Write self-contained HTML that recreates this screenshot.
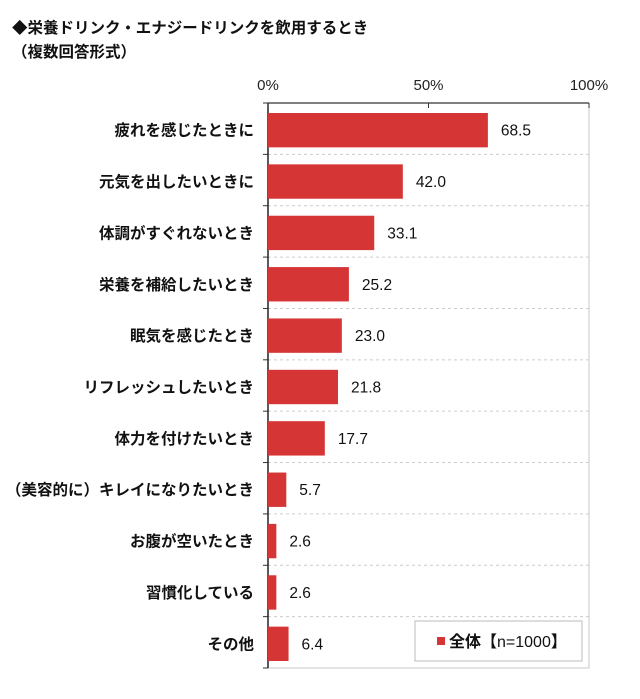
<!DOCTYPE html>
<html><head><meta charset="utf-8"><style>
body{margin:0;background:#fff;width:640px;height:694px;overflow:hidden}
svg text{font-family:"Liberation Sans","Noto Sans CJK JP",sans-serif}
</style></head><body>
<svg id="chart" width="640" height="694" xmlns="http://www.w3.org/2000/svg">
<text x="12" y="33" font-size="15.5" font-weight="bold" fill="#111">◆栄養ドリンク・エナジードリンクを飲用するとき</text>
<text x="12" y="57" font-size="15.5" font-weight="bold" fill="#111">（複数回答形式）</text>
<g id="plot"></g>
</svg>
<script>
const categories=["疲れを感じたときに","元気を出したいときに","体調がすぐれないとき","栄養を補給したいとき","眠気を感じたとき","リフレッシュしたいとき","体力を付けたいとき","（美容的に）キレイになりたいとき","お腹が空いたとき","習慣化している","その他"];
const values=[68.5,42.0,33.1,25.2,23.0,21.8,17.7,5.7,2.6,2.6,6.4];
const tickValues=[0,50,100];
const tickLabels=["0%","50%","100%"];
const L=268,R=589,T=103,B=668;
const ns="http://www.w3.org/2000/svg";
const g=document.getElementById('plot');
const x=v=>L+(R-L)*v/100;
const rowH=(B-T)/categories.length;
const y=i=>T+i*rowH;
function mk(t,a){const e=document.createElementNS(ns,t);for(const k in a)e.setAttribute(k,a[k]);g.appendChild(e);return e;}
let e=mk('rect',{x:L,y:T,width:R-L,height:B-T,fill:'#fff',stroke:'#c8c8c8','stroke-width':1});


for(let i=1;i<categories.length;i++){
 e=mk('line',{x1:L,x2:R,y1:y(i),y2:y(i),stroke:'#ccc','stroke-dasharray':'3,3'});
 
 
}
for(let i=0;i<=categories.length;i++){
 e=mk('line',{x1:L-5,x2:L,y1:y(i),y2:y(i),stroke:'#333'});
 
 
}
e=mk('line',{x1:L,x2:L,y1:T,y2:B,stroke:'#222','stroke-width':1.5});


e=mk('line',{x1:L,x2:R,y1:T,y2:T,stroke:'#333','stroke-width':1.2});


tickValues.forEach((v,i)=>{
 e=mk('line',{x1:x(v),x2:x(v),y1:T,y2:T+5,stroke:'#333'});
 
 
 e=mk('text',{x:x(v),y:90,'font-size':15,'text-anchor':'middle',fill:'#222'});
 e.textContent=tickLabels[i];
 
 
});
categories.forEach((c,i)=>{
 const yy=y(i)+10,h=rowH-17;
 e=mk('rect',{x:L,y:yy,width:x(values[i])-L,height:h,fill:'#d53535'});
 
 
 e=mk('text',{x:x(values[i])+13,y:yy+h/2+5.5,'font-size':15.5,fill:'#111'});
 e.textContent=values[i].toFixed(1);
 
 
 e=mk('text',{x:254,y:yy+h/2+5.5,'font-size':15.5,'font-weight':'bold','text-anchor':'end',fill:'#111'});
 e.textContent=c;
 
 
});
e=mk('rect',{x:415,y:621,width:167,height:40,fill:'#fff',stroke:'#bbb'});


e=mk('rect',{x:437,y:637,width:8,height:8,fill:'#d53535'});


e=mk('text',{x:449,y:647,'font-size':16,fill:'#111'});
e.innerHTML='<tspan font-weight="bold">全体【</tspan>n=1000<tspan font-weight="bold">】</tspan>';


</script>
</body></html>
